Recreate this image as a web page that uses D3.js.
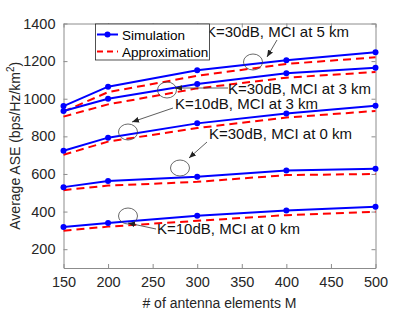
<!DOCTYPE html>
<html>
<head>
<meta charset="utf-8">
<script src="https://cdn.jsdelivr.net/npm/d3@7"></script>
<style>
  body { margin: 0; background: #fff; }
  svg { display: block; font-family: "Liberation Sans", Arial, Helvetica, sans-serif; }
</style>
</head>
<body>
<div id="chart"></div>
<script>
'use strict';

// antenna counts on x
const antennas = [150, 200, 300, 400, 500];

// simulation curves (solid blue)
const simK30d5 = [961, 1064, 1151, 1204, 1247];
const simK30d3 = [935, 1000, 1078, 1135, 1165];
const simK10d3 = [723, 793, 869, 922, 963];
const simK30d0 = [530, 562, 585, 619, 628];
const simK10d0 = [318, 339, 378, 406, 426];

// approximation curves (dashed red)
const apxK30d5 = [932, 1035, 1122, 1185, 1220];
const apxK30d3 = [905, 970, 1055, 1112, 1142];
const apxK10d3 = [702, 772, 844, 900, 935];
const apxK30d0 = [514, 538, 558, 594, 600];
const apxK10d0 = [298, 320, 351, 381, 399];

const xTicks = [150, 200, 250, 300, 350, 400, 450, 500];
const yTicks = [200, 400, 600, 800, 1000, 1200, 1400];

const simSeries = [simK30d5, simK30d3, simK10d3, simK30d0, simK10d0];
const apxSeries = [apxK30d5, apxK30d3, apxK10d3, apxK30d0, apxK10d0];

// annotation labels: text, text pos, arrow from/to, ellipse centre (in pixels)
const notes = [
    { text: "K=30dB, MCI at 5 km", tx: 206, ty: 37, from: [277, 40], to: [267, 57], c: [253, 62] },
    { text: "K=30dB, MCI at 3 km", tx: 228, ty: 94, from: [228, 88], to: [175, 88], c: [167, 90] },
    { text: "K=10dB, MCI at 3 km", tx: 175, ty: 109, from: [173, 108], to: [132, 122], c: [128, 132] },
    { text: "K=30dB, MCI at 0 km", tx: 209, ty: 139, from: [207, 142], to: [189, 158], c: [180, 168] },
    { text: "K=10dB, MCI at 0 km", tx: 157, ty: 234, from: [156, 229], to: [128, 223], c: [128, 216] }
];

const width = 415, height = 312;
const margin = { top: 23.5, right: 39.5, bottom: 44, left: 63.5 };

const svg = d3.select("#chart").append("svg")
    .attr("width", width)
    .attr("height", height);

const x = d3.scaleLinear().domain([150, 500]).range([margin.left, width - margin.right]);
const y = d3.scaleLinear().domain([100, 1400]).range([height - margin.bottom, margin.top]);

// arrow head
svg.append("defs").append("marker")
    .attr("id", "arrow")
    .attr("viewBox", "0 -5 10 10")
    .attr("refX", 10)
    .attr("markerWidth", 7)
    .attr("markerHeight", 7)
    .attr("markerUnits", "userSpaceOnUse")
    .attr("orient", "auto")
    .append("path")
    .attr("d", "M0,-4L10,0L0,4Z")
    .attr("fill", "#222");

// axes (MATLAB style box with inward ticks)
const axisColor = "#262626";
const tickLen = 4;

const xAxis = svg.append("g")
    .attr("transform", `translate(0,${height - margin.bottom})`)
    .call(d3.axisBottom(x).tickValues(xTicks).tickSizeInner(-tickLen).tickSizeOuter(0).tickPadding(9).tickFormat(d3.format("d")));
const yAxis = svg.append("g")
    .attr("transform", `translate(${margin.left},0)`)
    .call(d3.axisLeft(y).tickValues(yTicks).tickSizeInner(-tickLen).tickSizeOuter(0).tickPadding(8).tickFormat(d3.format("d")));
const xTop = svg.append("g")
    .attr("transform", `translate(0,${margin.top})`)
    .call(d3.axisTop(x).tickValues(xTicks).tickSizeInner(-tickLen).tickSizeOuter(0).tickFormat(""));
const yRight = svg.append("g")
    .attr("transform", `translate(${width - margin.right},0)`)
    .call(d3.axisRight(y).tickValues(yTicks).tickSizeInner(-tickLen).tickSizeOuter(0).tickFormat(""));

[xAxis, yAxis, xTop, yRight].forEach((g) => {
    g.select(".domain").attr("stroke", "#8c8c8c").attr("stroke-width", 1);
    g.selectAll(".tick line").attr("stroke", "#8c8c8c");
    g.selectAll(".tick text")
        .attr("fill", axisColor)
        .style("font-size", "14.5px")
        .style("font-family", "\"Liberation Sans\", Arial, sans-serif");
});

// axis titles
svg.append("text")
    .attr("x", (margin.left + width - margin.right) / 2)
    .attr("y", 308)
    .attr("text-anchor", "middle")
    .attr("fill", axisColor)
    .style("font-size", "14px")
    .text("# of antenna elements M");

const yTitle = svg.append("text")
    .attr("transform", `translate(20,${(margin.top + height - margin.bottom) / 2}) rotate(-90)`)
    .attr("text-anchor", "middle")
    .attr("fill", axisColor)
    .style("font-size", "14px");
yTitle.append("tspan").text("Average ASE (bps/Hz/km");
yTitle.append("tspan").attr("dy", -6).style("font-size", "10px").text("2");
yTitle.append("tspan").attr("dy", 6).text(")");

// curves
const line = d3.line()
    .x((d, i) => x(antennas[i]))
    .y((d) => y(d));

apxSeries.forEach((s) => {
    svg.append("path")
        .datum(s)
        .attr("d", line)
        .attr("fill", "none")
        .attr("stroke", "#ff0000")
        .attr("stroke-width", 2)
        .attr("stroke-dasharray", "8,5");
});

simSeries.forEach((s) => {
    svg.append("path")
        .datum(s)
        .attr("d", line)
        .attr("fill", "none")
        .attr("stroke", "#0000ff")
        .attr("stroke-width", 2);
    svg.append("g").selectAll("circle")
        .data(s)
        .join("circle")
        .attr("cx", (d, i) => x(antennas[i]))
        .attr("cy", (d) => y(d))
        .attr("r", 3)
        .attr("fill", "#0000ff");
});

// annotations
notes.forEach((n) => {
    svg.append("ellipse")
        .attr("cx", n.c[0])
        .attr("cy", n.c[1])
        .attr("rx", 9.5)
        .attr("ry", 8)
        .attr("fill", "none")
        .attr("stroke", "#444")
        .attr("stroke-width", 0.8);
    svg.append("line")
        .attr("x1", n.from[0]).attr("y1", n.from[1])
        .attr("x2", n.to[0]).attr("y2", n.to[1])
        .attr("stroke", "#333")
        .attr("stroke-width", 0.8)
        .attr("marker-end", "url(#arrow)");
    svg.append("text")
        .attr("x", n.tx)
        .attr("y", n.ty)
        .attr("fill", "#111")
        .style("font-size", "15px")
        .text(n.text);
});

// legend
const lg = svg.append("g");
lg.append("rect")
    .attr("x", 95.5).attr("y", 24)
    .attr("width", 114).attr("height", 36)
    .attr("fill", "#fff")
    .attr("stroke", "#262626")
    .attr("stroke-width", 0.8);

const legendItems = [
    { label: "Simulation", color: "#0000ff", dash: null, marker: true, y: 34.5 },
    { label: "Approximation", color: "#ff0000", dash: "6,4", marker: false, y: 51.5 }
];
legendItems.forEach((it) => {
    lg.append("line")
        .attr("x1", 97).attr("x2", 118)
        .attr("y1", it.y).attr("y2", it.y)
        .attr("stroke", it.color)
        .attr("stroke-width", 2)
        .attr("stroke-dasharray", it.dash);
    if (it.marker) {
        lg.append("circle").attr("cx", 107.5).attr("cy", it.y).attr("r", 3).attr("fill", it.color);
    }
    lg.append("text")
        .attr("x", 122)
        .attr("y", it.y + 5)
        .attr("fill", "#000")
        .style("font-size", "13.5px")
        .text(it.label);
});
</script>
</body>
</html>
